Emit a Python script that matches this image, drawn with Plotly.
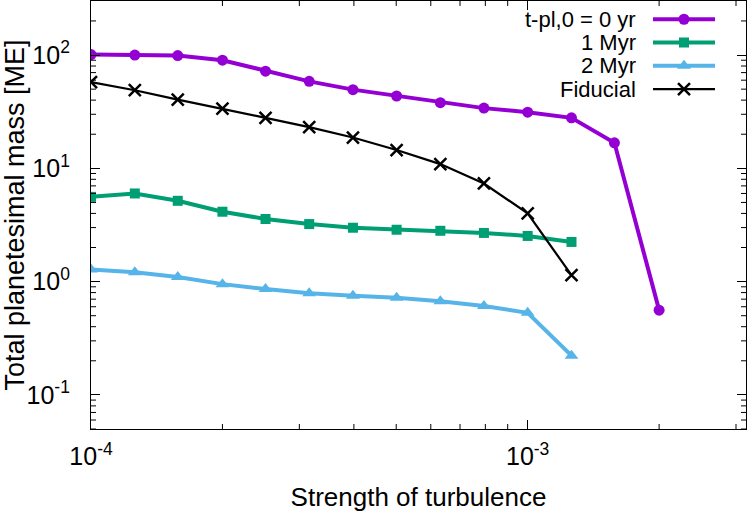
import math
import plotly.graph_objects as go

# Strength of turbulence (x values)
alpha = [1.0e-4, 1.26e-4, 1.58e-4, 2.0e-4, 2.51e-4, 3.16e-4, 3.98e-4,
         5.01e-4, 6.31e-4, 7.94e-4, 1.0e-3, 1.26e-3, 1.58e-3, 2.0e-3]

# Total planetesimal mass [ME]
mass_t0 = [101, 100, 99, 90, 72, 58.6, 49.5, 43.5, 38, 34, 31.3, 27.9, 16.8, 0.56]
mass_1myr = [5.6, 6.0, 5.17, 4.14, 3.57, 3.22, 2.99, 2.87, 2.81, 2.69, 2.53, 2.24]
mass_2myr = [1.28, 1.21, 1.1, 0.95, 0.86, 0.79, 0.75, 0.72, 0.67, 0.61, 0.53, 0.222]
mass_fid = [57.8, 48.9, 40.4, 33.6, 27.9, 23.1, 18.7, 14.5, 10.9, 7.35, 4.0, 1.14]

names = ["t-pl,0 = 0 yr", "1 Myr", "2 Myr", "Fiducial"]
colors = ["#9400d3", "#009e73", "#56b4e9", "#000000"]

x_tickvals = [1e-4, 1e-3]
x_ticktext = ["10<sup>-4</sup>", "10<sup>-3</sup>"]
y_tickvals = [0.1, 1, 10, 100]
y_ticktext = ["10<sup>-1</sup>", "10<sup>0</sup>", "10<sup>1</sup>", "10<sup>2</sup>"]

FONT = "Liberation Sans, Arial, Helvetica, sans-serif"

minor_vals = [m * 10.0 ** e for e in range(-5, 4) for m in range(2, 10)]
XRANGE = [-4, -2.5]
YRANGE = [-1.30103, 2.4771]

W, H = 747, 514
ML, MR, MT, MB = 91, 1, 1, 85
PW, PH = W - ML - MR, H - MT - MB

fig = go.Figure()

series = [mass_t0, mass_1myr, mass_2myr, mass_fid]
symbols = ["circle", "square", "triangle-up", "x-thin"]
lwidths = [4, 4, 4, 2.2]
msizes = [11, 10, 12, 12]
for i, (name, ys, col, sym, lw, ms) in enumerate(zip(names, series, colors, symbols, lwidths, msizes)):
    marker = dict(symbol=sym, size=ms, color=col)
    if sym == "x-thin":
        marker["line"] = dict(color=col, width=2.5)
    fig.add_trace(go.Scatter(
        x=alpha[:len(ys)], y=ys, name=name, mode="lines+markers",
        line=dict(color=col, width=lw), marker=marker, showlegend=False,
    ))
    # legend key (gnuplot style: text on the left, sample on the right)
    fig.add_trace(go.Scatter(
        x=[0, 1, 2], y=[i, i, i], xaxis="x2", yaxis="y2", mode="lines+markers",
        line=dict(color=col, width=lw), marker=marker,
        selectedpoints=[1], selected=dict(marker=dict(opacity=1)),
        unselected=dict(marker=dict(opacity=0)),
        showlegend=False, hoverinfo="skip",
    ))
    fig.add_annotation(
        text=name, xref="paper", x=(638 - ML) / PW, xanchor="right",
        yref="y2", y=i, yanchor="middle", showarrow=False,
        font=dict(family=FONT, size=22, color="black"),
    )

# minor log ticks (inside, on all four sides)
tick_line = dict(color="black", width=1)
lx, ly = 5 / PH, 5 / PW
for v in minor_vals:
    fx = (math.log10(v) - XRANGE[0]) / (XRANGE[1] - XRANGE[0])
    if 0 < fx < 1:
        fig.add_shape(type="line", xref="paper", yref="paper", x0=fx, x1=fx, y0=0, y1=lx, line=tick_line)
        fig.add_shape(type="line", xref="paper", yref="paper", x0=fx, x1=fx, y0=1, y1=1 - lx, line=tick_line)
    fy = (math.log10(v) - YRANGE[0]) / (YRANGE[1] - YRANGE[0])
    if 0 < fy < 1:
        fig.add_shape(type="line", xref="paper", yref="paper", y0=fy, y1=fy, x0=0, x1=ly, line=tick_line)
        fig.add_shape(type="line", xref="paper", yref="paper", y0=fy, y1=fy, x0=1, x1=1 - ly, line=tick_line)

axis_common = dict(
    type="log", showline=True, linecolor="black", linewidth=1.2,
    mirror="ticks", ticks="inside", ticklen=9, tickwidth=1, tickcolor="black",
    showgrid=False, zeroline=False, automargin=False, tickmode="array",
    tickfont=dict(family=FONT, size=25, color="black"),
)

fig.update_layout(
    width=W, height=H,
    margin=dict(l=ML, r=MR, t=MT, b=MB),
    paper_bgcolor="white", plot_bgcolor="rgba(0,0,0,0)",
    font=dict(family=FONT, color="black"),
    xaxis=dict(axis_common, range=XRANGE, tickvals=x_tickvals, ticktext=x_ticktext,
               ticklabelstandoff=5,
               title=dict(text="Strength of turbulence", font=dict(family=FONT, size=26), standoff=18)),
    yaxis=dict(axis_common, range=YRANGE, tickvals=y_tickvals, ticktext=y_ticktext,
               ticklabelstandoff=15,
               title=dict(text="Total planetesimal mass [ME]", font=dict(family=FONT, size=27), standoff=6)),
    xaxis2=dict(domain=[(653 - ML) / PW, (715 - ML) / PW], range=[0, 2], visible=False,
                anchor="y2", fixedrange=True),
    yaxis2=dict(domain=[1 - 99.7 / PH, 1 - 6.6 / PH], range=[3.5, -0.5], visible=False,
                anchor="x2", fixedrange=True),
    showlegend=False,
)

fig.write_html("out.html", config={"displayModeBar": False},
               post_script="document.body.style.margin='0';document.body.style.overflow='hidden';")
